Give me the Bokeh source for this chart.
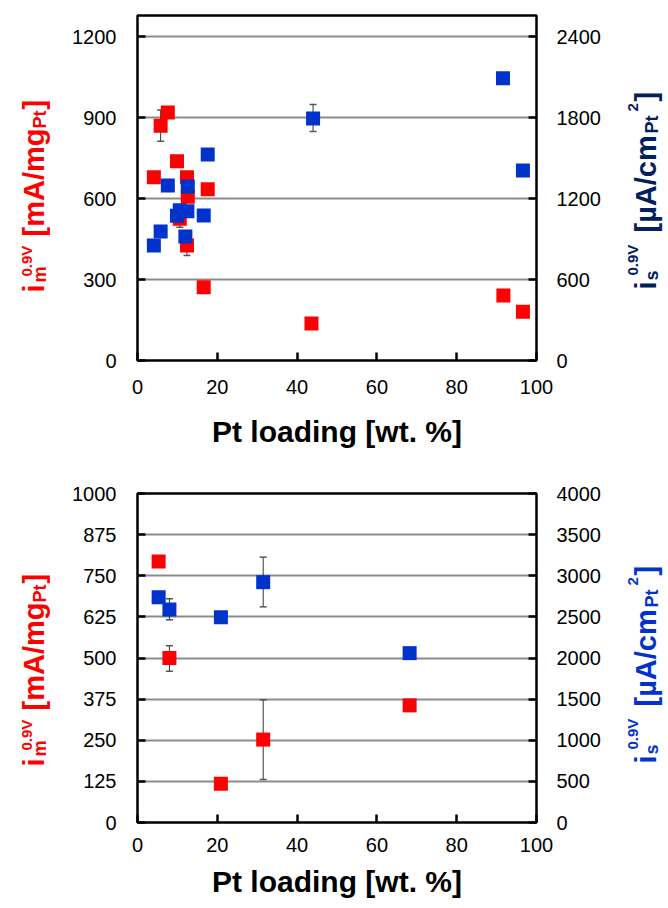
import numpy as np
from bokeh.plotting import figure
from bokeh.models import Range1d, LinearAxis, FixedTicker
from bokeh.core.properties import value
from bokeh.layouts import column, row
from bokeh.embed import file_html
from bokeh.resources import INLINE

# ---------------- data ----------------
x_ticks = [0, 20, 40, 60, 80, 100]
top_left_ticks = [0, 300, 600, 900, 1200]
top_right_ticks = [0, 600, 1200, 1800, 2400]
bot_left_ticks = [0, 125, 250, 375, 500, 625, 750, 875, 1000]
bot_right_ticks = [0, 500, 1000, 1500, 2000, 2500, 3000, 3500, 4000]

# top panel: mass activity (red, left axis) and specific activity (blue, right axis)
top_x_mass = [4.1, 5.8, 7.6, 9.9, 10.6, 12.4, 12.6, 12.4, 16.6, 17.6, 43.6, 91.7, 96.6]
top_mass = [679, 870, 919, 738, 525, 679, 607, 426, 271, 634, 137, 241, 181]
top_mass_err_x = [5.8, 10.6, 12.4]
top_mass_err_lo = [812, 494, 389]
top_mass_err_hi = [928, 556, 463]

top_x_spec = [4.1, 5.8, 7.6, 9.9, 10.6, 12.0, 12.5, 12.6, 16.6, 17.6, 44.0, 91.6, 96.6]
top_spec = [852, 956, 1296, 1072, 1113, 918, 1106, 1289, 1074, 1526, 1793, 2091, 1407]
top_spec_err_x = [44.0]
top_spec_err_lo = [1696]
top_spec_err_hi = [1896]

# bottom panel
bot_x = [5.3, 8.0, 20.9, 31.5, 68.2]
bot_mass = [793, 500, 118, 252, 356]
bot_spec = [2739, 2590, 2496, 2922, 2059]
bot_mass_err_x = [8.0, 31.5]
bot_mass_err_lo = [460, 131]
bot_mass_err_hi = [537, 373]
bot_spec_err_x = [8.0, 31.5]
bot_spec_err_lo = [2464, 2622]
bot_spec_err_hi = [2720, 3226]

left_title = ["i", "m", "0.9V", "[mA/mg", "Pt", "]"]
right_title = ["i", "s", "0.9V", "[µA/cm", "Pt", "2", "]"]

RED = "#ff0000"
BLUE = "#0033cc"
NAVY = "#002060"
FONT = "Liberation Sans"

LEFT_W = 50
RIGHT_X0 = 610
RIGHT_W = 56


def label_fig(width, frame_h, border_top, border_bottom):
    # side strip whose frame is aligned with the main plot frame; coordinates are local px
    f = figure(width=width, frame_height=frame_h,
               x_range=Range1d(0, width), y_range=Range1d(border_top + frame_h, border_top),
               output_backend="svg", toolbar_location=None,
               min_border_left=0, min_border_right=0,
               min_border_top=border_top, min_border_bottom=border_bottom,
               background_fill_color="white", border_fill_color="white")
    f.axis.visible = False
    f.grid.visible = False
    f.outline_line_color = None
    return f


def put(f, text, size, bx, sy, color):
    f.text(x=[bx], y=[sy], text=[text], angle=np.pi / 2,
           text_align="left", text_baseline="alphabetic",
           text_font=value(FONT), text_font_size=value(f"{size}px"),
           text_font_style="bold", text_color=color)


def make_panel(y1max, y2max, lticks, rticks, frame_h, border_top, border_bottom,
               xm, ym, em_x, em_lo, em_hi, xs, ys, es_x, es_lo, es_hi,
               tick_standoff, title_standoff, right_color, shift):
    p = figure(frame_width=399, frame_height=frame_h,
               x_range=Range1d(0, 100), y_range=Range1d(0, y1max),
               output_backend="svg", toolbar_location=None,
               min_border_left=137 - LEFT_W, min_border_right=RIGHT_X0 - 536,
               min_border_top=border_top, min_border_bottom=border_bottom,
               background_fill_color="white", border_fill_color="white")
    p.extra_y_ranges = {"right": Range1d(0, y2max)}
    p.outline_line_color = "black"
    p.outline_line_width = 2.5
    p.xgrid.visible = False
    p.ygrid.ticker = FixedTicker(ticks=lticks)
    p.ygrid.grid_line_color = "#8c8c8c"
    p.ygrid.grid_line_width = 2

    p.xaxis.ticker = FixedTicker(ticks=x_ticks)
    p.yaxis.ticker = FixedTicker(ticks=lticks)
    raxis = LinearAxis(y_range_name="right", ticker=FixedTicker(ticks=rticks))
    p.add_layout(raxis, "right")

    for ax in p.axis:
        ax.axis_line_color = None
        ax.major_tick_in = 8
        ax.major_tick_out = 0
        ax.major_tick_line_width = 2.5
        ax.major_tick_line_color = "black"
        ax.minor_tick_line_color = None
        ax.major_label_text_font = FONT
        ax.major_label_text_font_size = "20px"
        ax.major_label_text_color = "black"
    p.yaxis.major_label_standoff = 21
    raxis.major_label_standoff = 20
    p.xaxis.major_label_standoff = tick_standoff
    p.xaxis.axis_label = "Pt loading [wt. %]"
    p.xaxis.axis_label_text_font = FONT
    p.xaxis.axis_label_text_font_size = "30px"
    p.xaxis.axis_label_text_font_style = "bold"
    p.xaxis.axis_label_text_color = "black"
    p.xaxis.axis_label_standoff = title_standoff

    # error bars (behind markers)
    p.segment(x0=em_x, y0=em_lo, x1=em_x, y1=em_hi, line_color="#333333", line_width=1)
    p.scatter(em_x + em_x, em_lo + em_hi, marker="dash", size=7, line_color="#555555", line_width=1.5)
    p.segment(x0=es_x, y0=es_lo, x1=es_x, y1=es_hi, line_color="#333333", line_width=1,
              y_range_name="right")
    p.scatter(es_x + es_x, es_lo + es_hi, marker="dash", size=7, line_color="#555555", line_width=1.5,
              y_range_name="right")

    # markers
    p.scatter(xm, ym, marker="square", size=14, fill_color=RED, line_color=None)
    p.scatter(xs, ys, marker="square", size=14, fill_color=BLUE, line_color=None,
              y_range_name="right")

    # rotated axis titles built from pieces (positions in the side strips, local px)
    fl = label_fig(LEFT_W, frame_h, border_top, border_bottom)
    left_layout = [(29, 33, 292), (18, 39.5, 282), (15, 26, 276),
                   (29, 33, 236), (18, 39.5, 128), (29, 33, 109)]
    for t, (s, bx, sy) in zip(left_title, left_layout):
        put(fl, t, s, bx, sy + shift, RED)

    fr = label_fig(RIGHT_W, frame_h, border_top, border_bottom)
    right_layout = [(29, 35, 289), (18, 41.5, 280), (15, 22, 275),
                    (29, 35, 232), (18, 41.5, 133), (15, 22, 111), (29, 35, 101)]
    for t, (s, bx, sy) in zip(right_title, right_layout):
        put(fr, t, s, bx, sy + shift, right_color)
    return row(fl, p, fr, spacing=0)


r1 = make_panel(1278, 2556, top_left_ticks, top_right_ticks, 345, 15, 108,
                top_x_mass, top_mass, top_mass_err_x, top_mass_err_lo, top_mass_err_hi,
                top_x_spec, top_spec, top_spec_err_x, top_spec_err_lo, top_spec_err_hi,
                19, 18, NAVY, 0)
r2 = make_panel(1000, 4000, bot_left_ticks, bot_right_ticks, 329, 25, 85,
                bot_x, bot_mass, bot_mass_err_x, bot_mass_err_lo, bot_mass_err_hi,
                bot_x, bot_spec, bot_spec_err_x, bot_spec_err_lo, bot_spec_err_hi,
                15, 10, BLUE, 474 - 468)

layout = column(r1, r2, spacing=0)
open("out.html", "w").write(file_html(layout, INLINE))
